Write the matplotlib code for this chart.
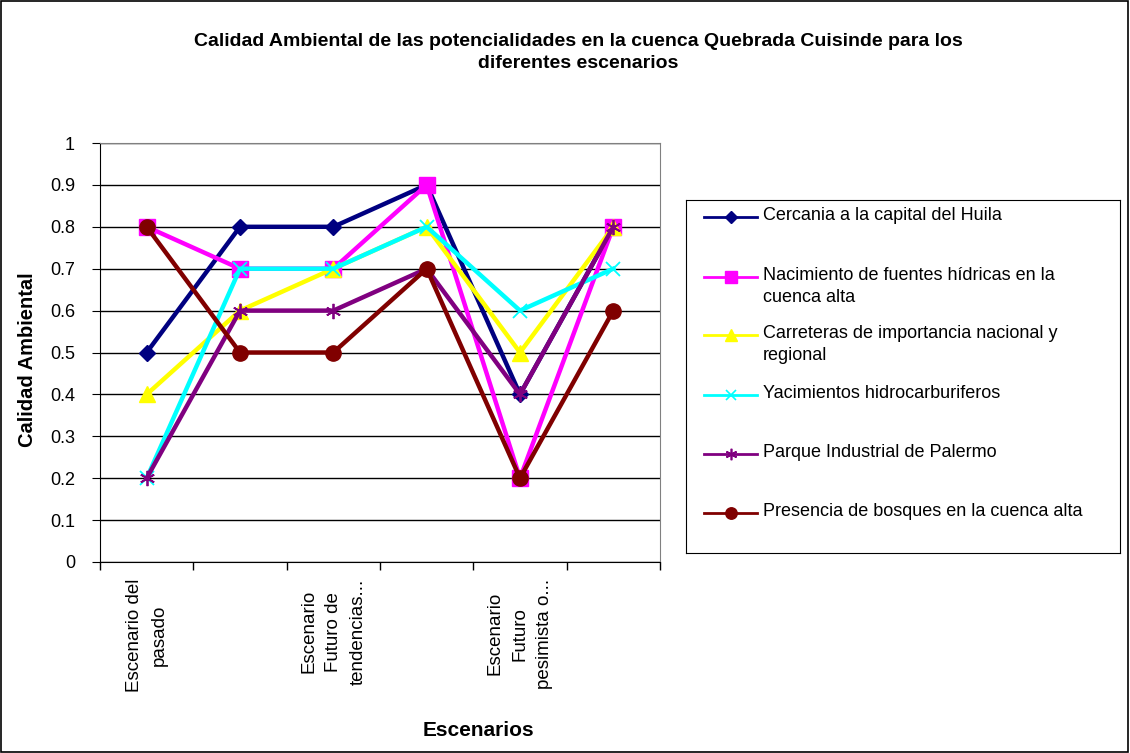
import matplotlib.pyplot as plt
from matplotlib.lines import Line2D
from matplotlib.patches import Rectangle

plt.rcParams['font.family'] = ['Liberation Sans', 'DejaVu Sans']

categories = ['Escenario del\npasado', '', 'Escenario\nFuturo de\ntendencias...',
              '', 'Escenario\nFuturo\npesimista o...', '']

cercania = [0.5, 0.8, 0.8, 0.9, 0.4, 0.8]
nacimiento = [0.8, 0.7, 0.7, 0.9, 0.2, 0.8]
carreteras = [0.4, 0.6, 0.7, 0.8, 0.5, 0.8]
yacimientos = [0.2, 0.7, 0.7, 0.8, 0.6, 0.7]
parque = [0.2, 0.6, 0.6, 0.7, 0.4, 0.8]
bosques = [0.8, 0.5, 0.5, 0.7, 0.2, 0.6]

series_names = ['Cercania a la capital del Huila',
                'Nacimiento de fuentes hídricas en la\ncuenca alta',
                'Carreteras de importancia nacional y\nregional',
                'Yacimientos hidrocarburiferos',
                'Parque Industrial de Palermo',
                'Presencia de bosques en la cuenca alta']
series_values = [cercania, nacimiento, carreteras, yacimientos, parque, bosques]
colors = ['#000080', '#FF00FF', '#FFFF00', '#00FFFF', '#800080', '#800000']
markers = ['D', 's', '^', 'x', '*', 'o']
msizes = [8, 11, 11, 10, 11, 11]

W, H = 1130, 753
fig = plt.figure(figsize=(W / 100, H / 100), dpi=100)
fig.patch.set_facecolor('white')
fig.patches.append(Rectangle((0.0005, 0.001), 0.998, 0.998, transform=fig.transFigure,
                             fill=False, edgecolor='black', lw=1.2))

ax = fig.add_axes([100 / W, 1 - 562 / H, 560 / W, 419 / H])
x = list(range(1, len(categories) + 1))
for vals, c, m, ms in zip(series_values, colors, markers, msizes):
    mew = 1.3 if m in ('x', '*') else 1
    if m == '*':
        m = (6, 2, 0)
    ax.plot(x, vals, color=c, lw=3.2, marker=m, markersize=ms, mec=c, mfc=c, mew=mew,
            clip_on=False, zorder=3)

ax.set_ylim(0, 1)
ax.set_xlim(0.5, len(categories) + 0.5)
ax.set_yticks([i / 10 for i in range(11)])
ax.set_yticklabels(['0', '0.1', '0.2', '0.3', '0.4', '0.5', '0.6', '0.7', '0.8', '0.9', '1'])
ax.yaxis.grid(True, color='black', lw=1)
ax.set_axisbelow(True)

ax.set_xticks([i + 0.5 for i in range(len(categories) + 1)])
ax.set_xticklabels([])
ax.set_xticks(x, minor=True)
ax.set_xticklabels(categories, minor=True, rotation=90, va='top', ha='center',
                   multialignment='center', fontsize=13.5, linespacing=1.6)
ax.tick_params(axis='x', which='minor', length=0, pad=12)
ax.tick_params(axis='x', which='major', length=6, direction='out', width=1)
ax.tick_params(axis='y', length=6, direction='out', labelsize=13, pad=12)

for s in ['top', 'right']:
    ax.spines[s].set_color('#808080')
for s in ['left', 'bottom']:
    ax.spines[s].set_color('black')

fig.text(578 / W, 1 - 52.5 / H, 'Calidad Ambiental de las potencialidades en la cuenca Quebrada Cuisinde para los\ndiferentes escenarios',
         ha='center', va='center', fontsize=14, fontweight='bold', linespacing=1.45)
fig.text(28 / W, 1 - 360 / H, 'Calidad Ambiental', rotation=90, ha='center', va='center',
         fontsize=14.5, fontweight='bold')
fig.text(478 / W, 1 - 730 / H, 'Escenarios', ha='center', va='center',
         fontsize=15, fontweight='bold')

# legend box
lax = fig.add_axes([686 / W, 1 - 553 / H, 434 / W, 353 / H])
lax.set_xlim(686, 1120)
lax.set_ylim(553, 200)
lax.set_xticks([])
lax.set_yticks([])
for s in lax.spines.values():
    s.set_color('black')
ys = [217, 277, 335, 395, 454, 513]
for name, c, m, ms, yy in zip(series_names, colors, markers, msizes, ys):
    mew = 1.2 if m in ('x', '*') else 1
    if m == '*':
        m = (6, 2, 0)
    lax.add_line(Line2D([704, 757], [yy, yy], color=c, lw=2))
    lax.add_line(Line2D([731], [yy], marker=m, markersize=ms * 0.75, color=c, mec=c, mfc=c, mew=mew))
    lax.text(763, yy - 10, name, ha='left', va='top', fontsize=13, linespacing=1.42)

fig.savefig('out.png', dpi=100)
